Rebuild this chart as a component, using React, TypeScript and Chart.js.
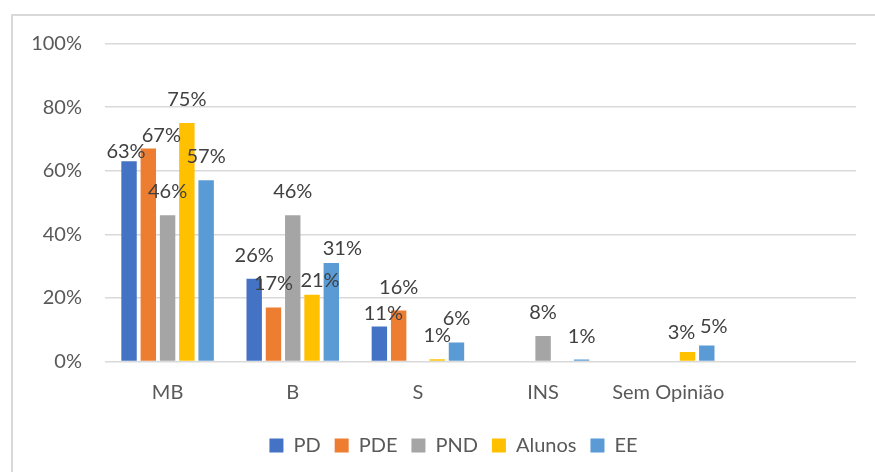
import React, { useEffect, useRef } from "react";
import { Chart, registerables } from "chart.js";

Chart.register(...registerables);

const categories = ["MB", "B", "S", "INS", "Sem Opinião", ""];
const seriesNames = ["PD", "PDE", "PND", "Alunos", "EE"];
const PD = [63, 26, 11, null, null, null];
const PDE = [67, 17, 16, null, null, null];
const PND = [46, 46, null, 8, null, null];
const Alunos = [75, 21, 0.7, null, 3, null];
const EE = [57, 31, 6, 0.6, 5, null];
const yTicks = [0, 20, 40, 60, 80, 100];

const colors = ["#4472C4", "#ED7D31", "#A5A5A5", "#FFC000", "#5B9BD5"];
const FONT = "Lato, 'Open Sans', sans-serif";

// label nudges (px) keyed "series-category", mimicking Excel's overlap avoidance
const labelNudges: Record<string, [number, number]> = {
  "0-0": [-3, 14],
  "1-0": [13, 11],
  "3-1": [8, 9],
  "4-1": [11, 9.5],
  "0-2": [4, 10],
  "3-4": [-6, 4],
  "4-4": [7, 4],
};

const dataLabelPlugin = {
  id: "dataLabels",
  afterDatasetsDraw(chart: any) {
    const ctx = chart.ctx;
    ctx.save();
    ctx.font = `20px ${FONT}`;
    ctx.fillStyle = "#404040";
    ctx.textAlign = "center";
    ctx.textBaseline = "alphabetic";
    chart.data.datasets.forEach((ds: any, i: number) => {
      const meta = chart.getDatasetMeta(i);
      ds.data.forEach((v: number | null, j: number) => {
        if (v == null) return;
        const el = meta.data[j];
        const n = labelNudges[`${i}-${j}`] || [0, 0];
        ctx.fillText(`${Math.round(v)}%`, el.x + n[0], el.y - 17 + n[1]);
      });
    });
    ctx.restore();
  },
};

// centre the legend on the whole chart box (Excel style)
const legendShift = {
  id: "legendShift",
  afterLayout(chart: any) {
    const lg = chart.legend;
    if (!lg) return;
    const dx = (chart.width - (lg.left + lg.right)) / 2;
    lg.left += dx;
    lg.right += dx;
  },
};

export default function App() {
  const ref = useRef<HTMLCanvasElement>(null);
  useEffect(() => {
    if (!ref.current) return;
    const all = [PD, PDE, PND, Alunos, EE];
    const chart = new Chart(ref.current, {
      type: "bar",
      data: {
        labels: categories,
        datasets: seriesNames.map((name, i) => ({
          label: name,
          data: all[i],
          backgroundColor: colors[i],
          borderWidth: 0,
          categoryPercentage: 0.77,
          barPercentage: 0.8,
        })),
      },
      options: {
        animation: false,
        responsive: false,
        layout: { padding: { left: 0, right: 38, top: 27.5, bottom: 6.5 } },
        plugins: {
          legend: {
            position: "bottom",
            labels: {
              font: { family: FONT, size: 20 },
              color: "#595959",
              boxWidth: 14,
              boxHeight: 14,
              padding: 14,
            },
          },
          tooltip: { enabled: false },
        },
        scales: {
          x: {
            grid: { display: false, drawTicks: false },
            border: { display: false },
            ticks: { font: { family: FONT, size: 20 }, color: "#595959", padding: 19, maxRotation: 0 },
            afterFit: (s: any) => { s.height = 60; },
          },
          y: {
            min: 0,
            max: 100,
            afterBuildTicks: (s: any) => { s.ticks = yTicks.map((v) => ({ value: v })); },
            grid: { color: "#D9D9D9", lineWidth: 1.5, drawTicks: false },
            border: { display: false },
            ticks: {
              font: { family: FONT, size: 20, lineHeight: 0.2 },
              color: "#595959",
              padding: 23,
              callback: (v: any) => `${v}%`,
            },
            afterFit: (s: any) => { s.width = 92; },
          },
        },
      },
      plugins: [dataLabelPlugin, legendShift],
    });
    return () => chart.destroy();
  }, []);

  return (
    <div style={{ position: "fixed", left: 0, top: 0, width: 875, height: 472, overflow: "hidden", background: "#fff" }}>
      <div style={{ position: "absolute", left: 11, top: 14, border: "2px solid #D9D9D9", background: "#fff" }}>
        <canvas ref={ref} width={881} height={456} style={{ display: "block" }} />
      </div>
    </div>
  );
}
